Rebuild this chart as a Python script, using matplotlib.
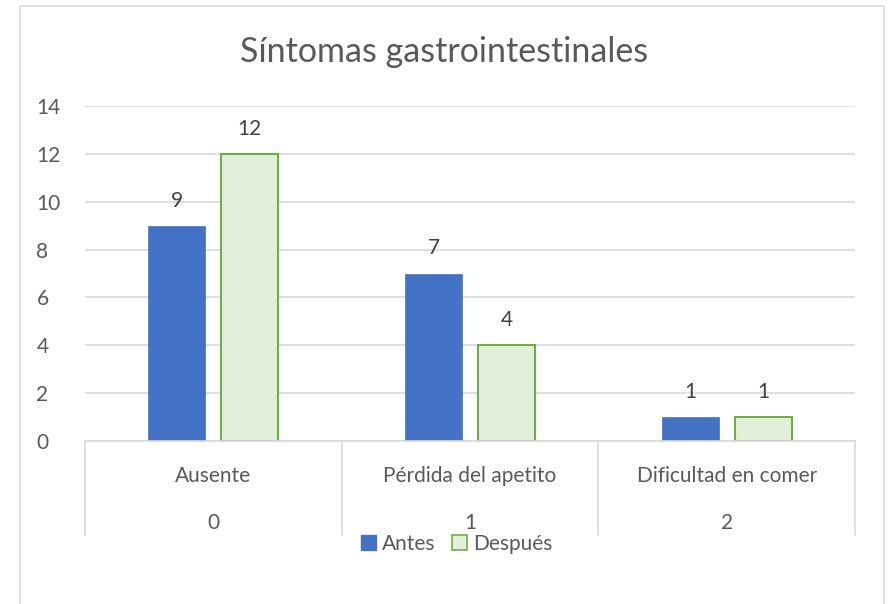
import matplotlib
matplotlib.use("Agg")
import matplotlib.pyplot as plt
from matplotlib.patches import Rectangle
from matplotlib.lines import Line2D
import numpy as np

plt.rcParams['font.family'] = ['Lato', 'DejaVu Sans']

title = "Síntomas gastrointestinales"
categories = ["Ausente", "Pérdida del apetito", "Dificultad en comer"]
codes = ["0", "1", "2"]
series_names = ["Antes", "Después"]
antes = [9, 7, 1]
despues = [12, 4, 1]
yticks = [0, 2, 4, 6, 8, 10, 12, 14]

W, H = 888, 604
fig = plt.figure(figsize=(W / 100, H / 100), dpi=100)
txt = "#595959"
grid = "#D9D9D9"
fs = 15

# chart border
fig.add_artist(Rectangle((20 / W, -0.01), (884 - 20) / W, 1 - 6 / H + 0.01,
                         transform=fig.transFigure, fill=False,
                         edgecolor=grid, linewidth=1.2))

ax_l, ax_r, ax_t, ax_b = 85, 855, 106, 441
ax = fig.add_axes([ax_l / W, 1 - ax_b / H, (ax_r - ax_l) / W, (ax_b - ax_t) / H])

x = np.arange(len(categories))
bw = 0.222
off = 0.142
b1 = ax.bar(x - off, antes, bw, color="#4472C4", edgecolor="#4472C4", linewidth=0.5, zorder=3)
b2 = ax.bar(x + off, despues, bw, color="#E2EFDA", edgecolor="#70AD47", linewidth=1.5, zorder=3)
for bars in (b1, b2):
    for r in bars:
        ax.annotate(f"{int(r.get_height())}", (r.get_x() + r.get_width() / 2, r.get_height()),
                    xytext=(0, 18), textcoords="offset points", ha="center", va="center",
                    fontsize=fs, color="#404040")

ax.set_xlim(-0.5, len(categories) - 0.5)
ax.set_ylim(0, 14)
ax.set_yticks(yticks)
ax.yaxis.grid(True, color=grid, linewidth=1.2, zorder=0)
ax.set_axisbelow(True)
for s in ax.spines.values():
    s.set_visible(False)
ax.set_yticklabels([str(v) for v in yticks])
for lbl in ax.get_yticklabels():
    lbl.set_horizontalalignment('left')
ax.tick_params(axis='y', length=0, labelsize=fs, labelcolor=txt, pad=35)
ax.set_xticks([])

# x axis line and category separators
trans = ax.get_xaxis_transform()
ax.add_line(Line2D([-0.5, len(categories) - 0.5], [0, 0], transform=trans, color=grid,
                   linewidth=1.2, clip_on=False, zorder=4))
sep_bottom = -(535 - 441) / (ax_b - ax_t)
for xs in np.arange(-0.5, len(categories), 1.0):
    ax.add_line(Line2D([xs, xs], [0, sep_bottom], transform=trans, color=grid,
                       linewidth=1.2, clip_on=False))
for i, (c, k) in enumerate(zip(categories, codes)):
    ax.text(i, -(476 - 441) / (ax_b - ax_t), c, transform=trans, ha="center", va="center",
            fontsize=fs, color=txt)
    ax.text(i, -(523 - 441) / (ax_b - ax_t), k, transform=trans, ha="center", va="center",
            fontsize=fs, color=txt)

fig.text(0.5, 1 - 52 / H, title, ha="center", va="center", fontsize=24.5, color=txt)

handles = [Rectangle((0, 0), 1, 1, facecolor="#4472C4", edgecolor="#4472C4"),
           Rectangle((0, 0), 1, 1, facecolor="#E2EFDA", edgecolor="#70AD47", linewidth=1.2)]
fig.legend(handles, series_names, loc="center", bbox_to_anchor=(457 / W, 1 - 544 / H),
           ncol=2, frameon=False, fontsize=fs, labelcolor=txt, handlelength=0.7,
           handleheight=0.7, handletextpad=0.3, columnspacing=0.8)

fig.savefig("out.png", dpi=100)
